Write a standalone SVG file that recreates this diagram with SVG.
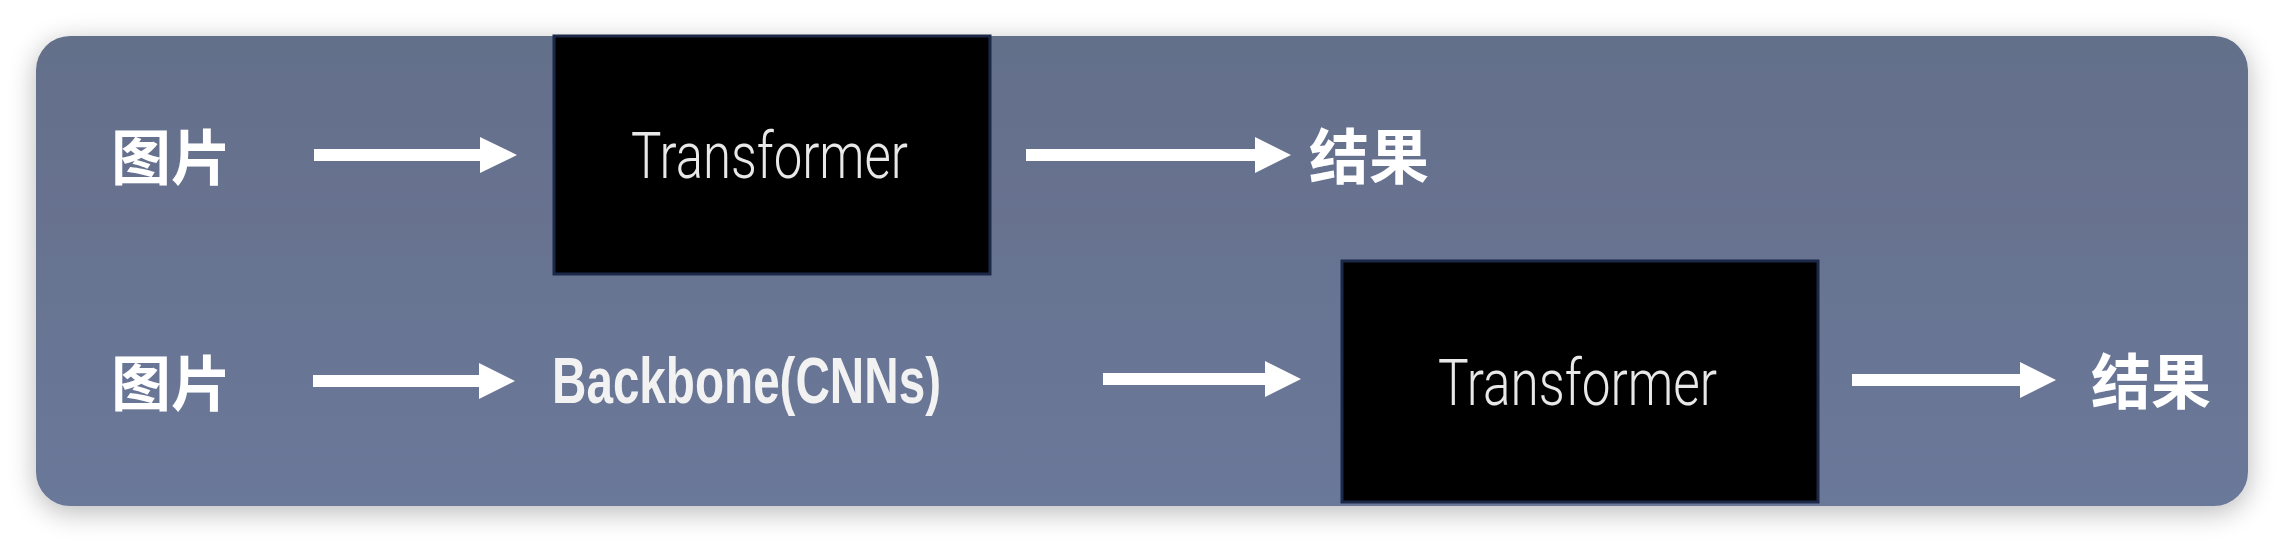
<svg xmlns="http://www.w3.org/2000/svg" width="2284" height="542" viewBox="0 0 2284 542">
  <defs>
    <linearGradient id="panelGrad" x1="0" y1="0" x2="0" y2="1">
      <stop offset="0" stop-color="#646f8a"/>
      <stop offset="1" stop-color="#6b7899"/>
    </linearGradient>
    <filter id="shadow" x="-5%" y="-20%" width="110%" height="140%">
      <feGaussianBlur in="SourceAlpha" stdDeviation="14"/>
      <feOffset dx="0" dy="6" result="b"/>
      <feComponentTransfer><feFuncA type="linear" slope="0.28"/></feComponentTransfer>
      <feMerge><feMergeNode/><feMergeNode in="SourceGraphic"/></feMerge>
    </filter>
  </defs>
  <style>
    .cjk { font-family: "Noto Sans CJK SC", "Noto Sans", sans-serif; font-weight: 700; font-size: 60px; fill: #ffffff; dominant-baseline: central; }
    .box { fill: #000000; stroke: #1c2848; stroke-width: 3; }
    .tf { font-family: Roboto, "Liberation Sans", Arial, sans-serif; font-weight: 300; font-size: 64px; fill: #e8e8e8; }
    .bb { font-family: "Liberation Sans", Arial, sans-serif; font-weight: 700; font-size: 64px; fill: #f2f2f2; }
    .arrow { fill: #ffffff; }
  </style>
  <rect x="0" y="0" width="2284" height="542" fill="#ffffff"/>
  <rect id="panel" x="36" y="36" width="2212" height="470" rx="34" ry="34" fill="url(#panelGrad)" filter="url(#shadow)"/>

  <g id="img1"><text class="cjk" x="111" y="153">图片</text></g>
  <g id="transformer1">
    <rect class="box" x="554" y="36" width="436" height="238"/>
    <text class="tf" x="631" y="178" textLength="277" lengthAdjust="spacingAndGlyphs">Transformer</text>
  </g>
  <g id="result1"><text class="cjk" x="1309" y="152">结果</text></g>

  <g id="img2"><text class="cjk" x="111" y="379">图片</text></g>
  <g id="backbone"><text class="bb" x="552" y="403" textLength="389" lengthAdjust="spacingAndGlyphs">Backbone(CNNs)</text></g>
  <g id="transformer2">
    <rect class="box" x="1342" y="261" width="476" height="241"/>
    <text class="tf" x="1438" y="405" textLength="279" lengthAdjust="spacingAndGlyphs">Transformer</text>
  </g>
  <g id="result2"><text class="cjk" x="2091" y="377">结果</text></g>

  <g id="connectors">
    <polygon class="arrow" points="314,149 480,149 480,137 517,155 480,173 480,161 314,161"/>
    <polygon class="arrow" points="1026,149 1255,149 1255,137 1291,155 1255,173 1255,161 1026,161"/>
    <polygon class="arrow" points="313,375 479,375 479,363 515,381 479,399 479,387 313,387"/>
    <polygon class="arrow" points="1103,373 1265,373 1265,361 1301,379 1265,397 1265,385 1103,385"/>
    <polygon class="arrow" points="1852,374 2020,374 2020,362 2056,380 2020,398 2020,386 1852,386"/>
  </g>
</svg>
